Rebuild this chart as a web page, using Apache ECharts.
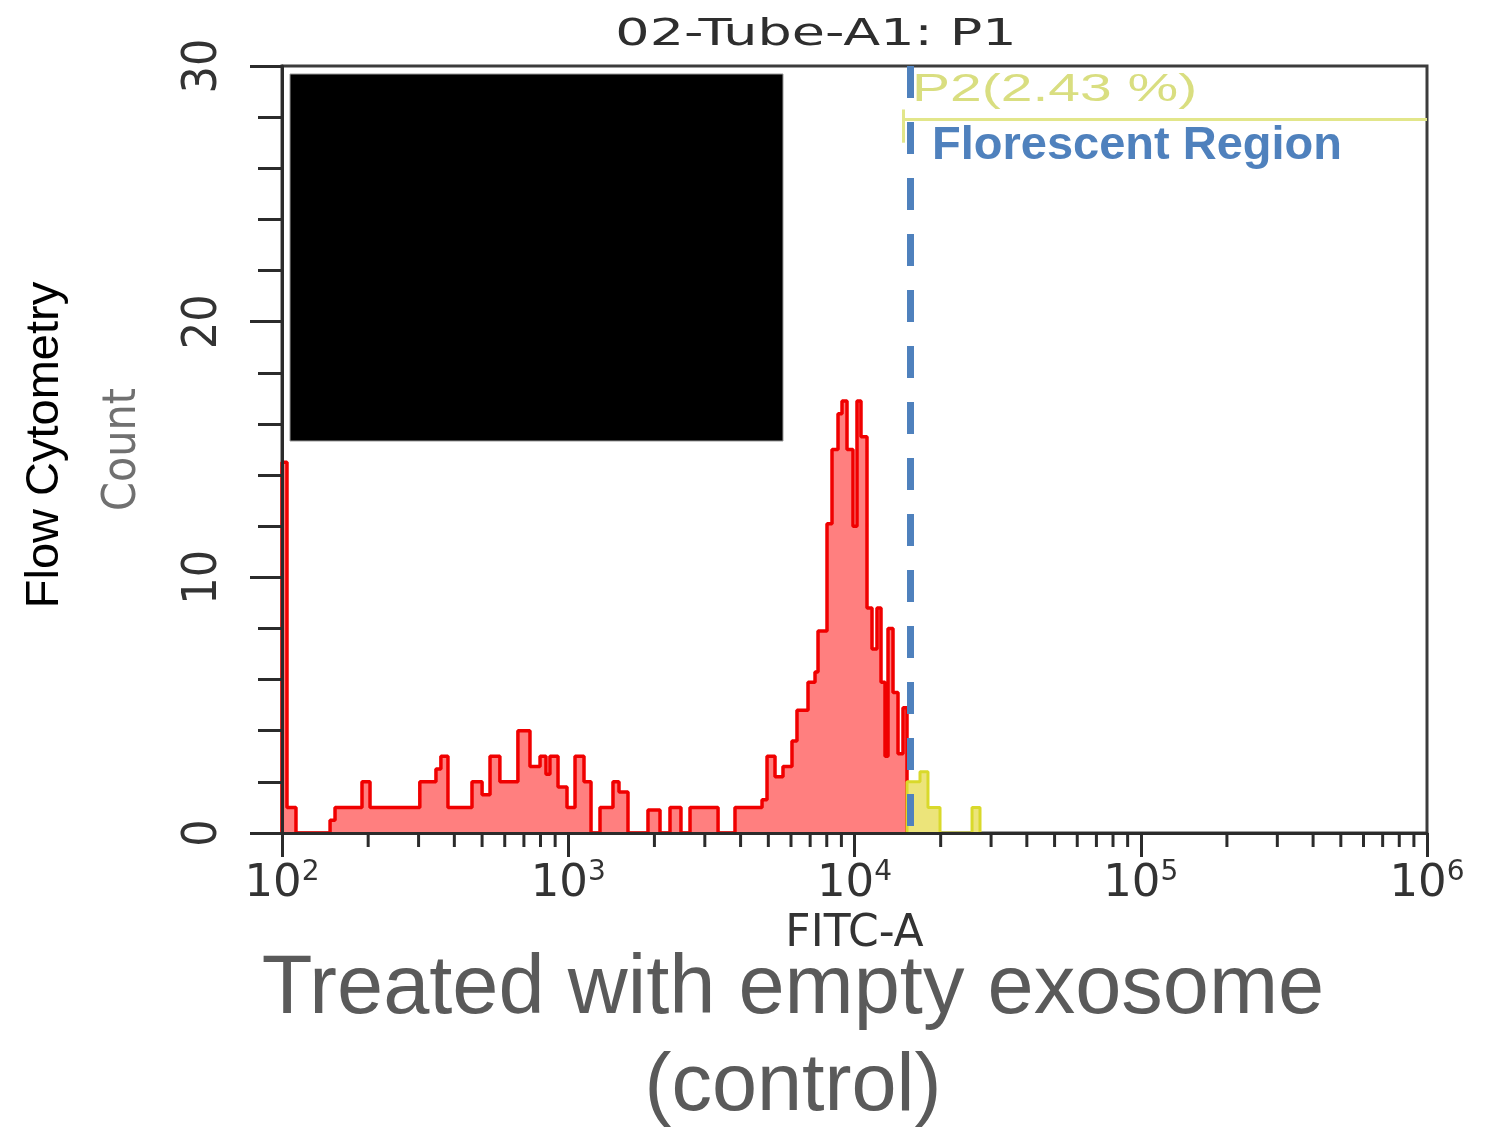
<!DOCTYPE html>
<html>
<head>
<meta charset="utf-8">
<script src="https://cdn.jsdelivr.net/npm/echarts@6/dist/echarts.min.js"></script>
<style>html,body{margin:0;padding:0;background:#fff}#c{width:1487px;height:1130px}</style>
</head>
<body>
<div id="c"></div>
<script>
// FITC-A bin edges (left edge of each histogram step) and counts, red (P1) events
const fitcEdges = [100, 100, 104.1, 111.9, 147.2, 153.2, 190.3, 203, 303, 345, 359, 380, 461, 500, 533, 577, 667, 735, 797, 836, 863, 921, 990, 1056, 1135, 1201, 1291, 1433, 1504, 1617, 1899, 2092, 2267, 2476, 2663, 3337, 3824, 4753, 4948, 5276, 5626, 6048, 6296, 6880, 7279, 7457, 8016, 8345, 8758, 9044, 9415, 9880, 10203, 10537, 11058, 11512, 11984, 12377, 12782, 13094, 13631, 14190, 14772, 15255];
const redCounts = [0, 14.5, 1, 0, 0.5, 1, 2, 1, 2, 2.5, 3, 1, 2, 1.5, 3, 2, 4, 2.6, 3, 2.3, 3, 1.8, 1, 3, 2, 0, 1, 2, 1.6, 0, 0.9, 0, 1, 0, 1, 0, 1, 1.3, 3, 2.2, 2.6, 3.6, 4.8, 5.9, 6.3, 7.9, 12.1, 15, 16.4, 16.9, 15, 12, 16.9, 15.5, 8.8, 7.2, 8.8, 5.9, 3, 8, 5.5, 3.1, 4.9, 0];
// P2 gated (yellow) events
const yellowEdges = [15255, 15255, 16936, 18060, 19896, 25738, 27445];
const yellowCounts = [0, 2, 2.4, 1, 0, 1, 0];
// axis ticks
const xMinorTicks = [200,300,400,500,600,700,800,900,2000,3000,4000,5000,6000,7000,8000,9000,20000,30000,40000,50000,60000,70000,80000,90000,200000,300000,400000,500000,600000,700000,800000,900000];
const yTicks = {min: 0, max: 30, interval: 10};
// gates / annotations
const fluorescentThreshold = 15630;
const p2GateStart = 14772, p2GateEnd = 1000000, p2GateLevel = 27.9, p2GateLow = 27.0, p2GateHigh = 28.3;
const titleText = '02-Tube-A1: P1';
const p2Label = 'P2(2.43 %)';
const regionLabel = 'Florescent Region';
const captionLines = ['Treated with empty exosome', '(control)'];

const chart = echarts.init(document.getElementById('c'), null, {renderer: 'canvas'});
const redData = fitcEdges.map((x, i) => [x, redCounts[i]]);
const yellowData = yellowEdges.map((x, i) => [x, yellowCounts[i]]);
const AX = '#2b2b2b';

const option = {
  animation: false,
  backgroundColor: '#ffffff',
  grid: {left: 282, top: 66, right: 60, bottom: 297, show: true, borderColor: '#3c3c3c', borderWidth: 3, backgroundColor: 'transparent'},
  xAxis: {
    type: 'log', logBase: 10, min: 100, max: 1000000, splitNumber: 4, z: 5,
    axisLine: {onZero: false, lineStyle: {color: AX, width: 3}},
    axisTick: {length: 24, lineStyle: {color: AX, width: 3}},
    splitLine: {show: false},
    axisLabel: {
      margin: 26,
      formatter: v => '{b|10}{s|' + Math.round(Math.log10(v)) + '}',
      rich: {
        b: {fontFamily: 'DejaVu Sans', fontSize: 45, color: '#333', lineHeight: 50},
        s: {fontFamily: 'DejaVu Sans', fontSize: 28, color: '#333', lineHeight: 26, verticalAlign: 'top'}
      }
    },
    name: 'FITC-A', nameLocation: 'middle', nameGap: 80,
    nameTextStyle: {fontFamily: 'DejaVu Sans', fontSize: 44, color: '#333'}
  },
  yAxis: {
    type: 'value', min: yTicks.min, max: yTicks.max, interval: yTicks.interval, z: 5,
    axisLine: {show: true, lineStyle: {color: AX, width: 3}},
    axisTick: {show: true, length: 32, lineStyle: {color: AX, width: 3}},
    minorTick: {show: true, splitNumber: 5, length: 24, lineStyle: {color: AX, width: 3}},
    splitLine: {show: false},
    axisLabel: {rotate: 90, margin: 54, fontFamily: 'Liberation Sans Narrow, DejaVu Sans Condensed, Liberation Sans', fontSize: 48, color: '#333'},
    name: 'Count', nameLocation: 'middle', nameRotate: 90, nameGap: 136,
    nameTextStyle: {fontFamily: 'Liberation Sans Narrow, DejaVu Sans Condensed, Liberation Sans', fontSize: 46, color: '#707070'}
  },
  series: [
    {
      name: 'P1', type: 'line', step: 'end', data: redData, symbol: 'none', z: 2,
      lineStyle: {color: '#f00000', width: 3.5},
      areaStyle: {color: '#ff7f7f', opacity: 1}
    },
    {
      name: 'P2', type: 'line', step: 'end', data: yellowData, symbol: 'none', z: 3,
      lineStyle: {color: '#d9d92b', width: 3},
      areaStyle: {color: '#ece47a', opacity: 1},
      markLine: {
        silent: true, symbol: 'none', label: {show: false},
        data: [
          [{coord: [p2GateStart, p2GateLevel], lineStyle: {color: '#e2e68a', width: 3, type: 'solid'}}, {coord: [p2GateEnd, p2GateLevel]}],
          [{coord: [p2GateStart, p2GateLow], lineStyle: {color: '#e2e68a', width: 3, type: 'solid'}}, {coord: [p2GateStart, p2GateHigh]}],
          [{coord: [fluorescentThreshold, yTicks.max], lineStyle: {color: '#4f81bd', width: 7, type: [32, 24]}}, {coord: [fluorescentThreshold, yTicks.min]}]
        ]
      }
    },
    {
      name: 'minorTicks', type: 'custom', silent: true, clip: false, z: 6,
      data: xMinorTicks.map(v => [v, 0]),
      renderItem: (params, api) => {
        const p = api.coord([api.value(0), 0]);
        return {type: 'line', shape: {x1: p[0], y1: p[1], x2: p[0], y2: p[1] + 14}, style: {stroke: AX, lineWidth: 3}};
      }
    }
  ],
  graphic: [
    {type: 'rect', z: 20, shape: {x: 290, y: 74, width: 493, height: 367}, style: {fill: '#000', stroke: '#999', lineWidth: 1}},
    {type: 'text', z: 20, x: 816, y: 35, scaleX: 1.42, style: {text: titleText, fill: '#2e2e2e', font: '500 38px "DejaVu Sans"', textAlign: 'center', textVerticalAlign: 'middle', align: 'center', verticalAlign: 'middle'}},
    {type: 'text', z: 20, x: 912, y: 91, scaleX: 1.5, style: {text: p2Label, fill: '#d9de80', font: '38px "Liberation Sans"', textAlign: 'left', textVerticalAlign: 'middle', align: 'left', verticalAlign: 'middle'}},
    {type: 'text', z: 20, x: 932, y: 146, style: {text: regionLabel, fill: '#4f81bd', font: 'bold 47px "Liberation Sans"', textAlign: 'left', textVerticalAlign: 'middle', align: 'left', verticalAlign: 'middle'}},
    {type: 'text', z: 20, x: 45, y: 445, rotation: Math.PI / 2, style: {text: 'Flow Cytometry', fill: '#000', font: '47px "Liberation Sans"', textAlign: 'center', textVerticalAlign: 'middle', align: 'center', verticalAlign: 'middle'}},
    {type: 'text', z: 20, x: 793, y: 990, style: {text: captionLines[0], fill: '#5a5a5a', font: '83px "Liberation Sans"', textAlign: 'center', textVerticalAlign: 'middle', align: 'center', verticalAlign: 'middle'}},
    {type: 'text', z: 20, x: 793, y: 1088, style: {text: captionLines[1], fill: '#5a5a5a', font: '81px "Liberation Sans"', textAlign: 'center', textVerticalAlign: 'middle', align: 'center', verticalAlign: 'middle'}}
  ]
};
chart.setOption(option);
</script>
</body>
</html>
